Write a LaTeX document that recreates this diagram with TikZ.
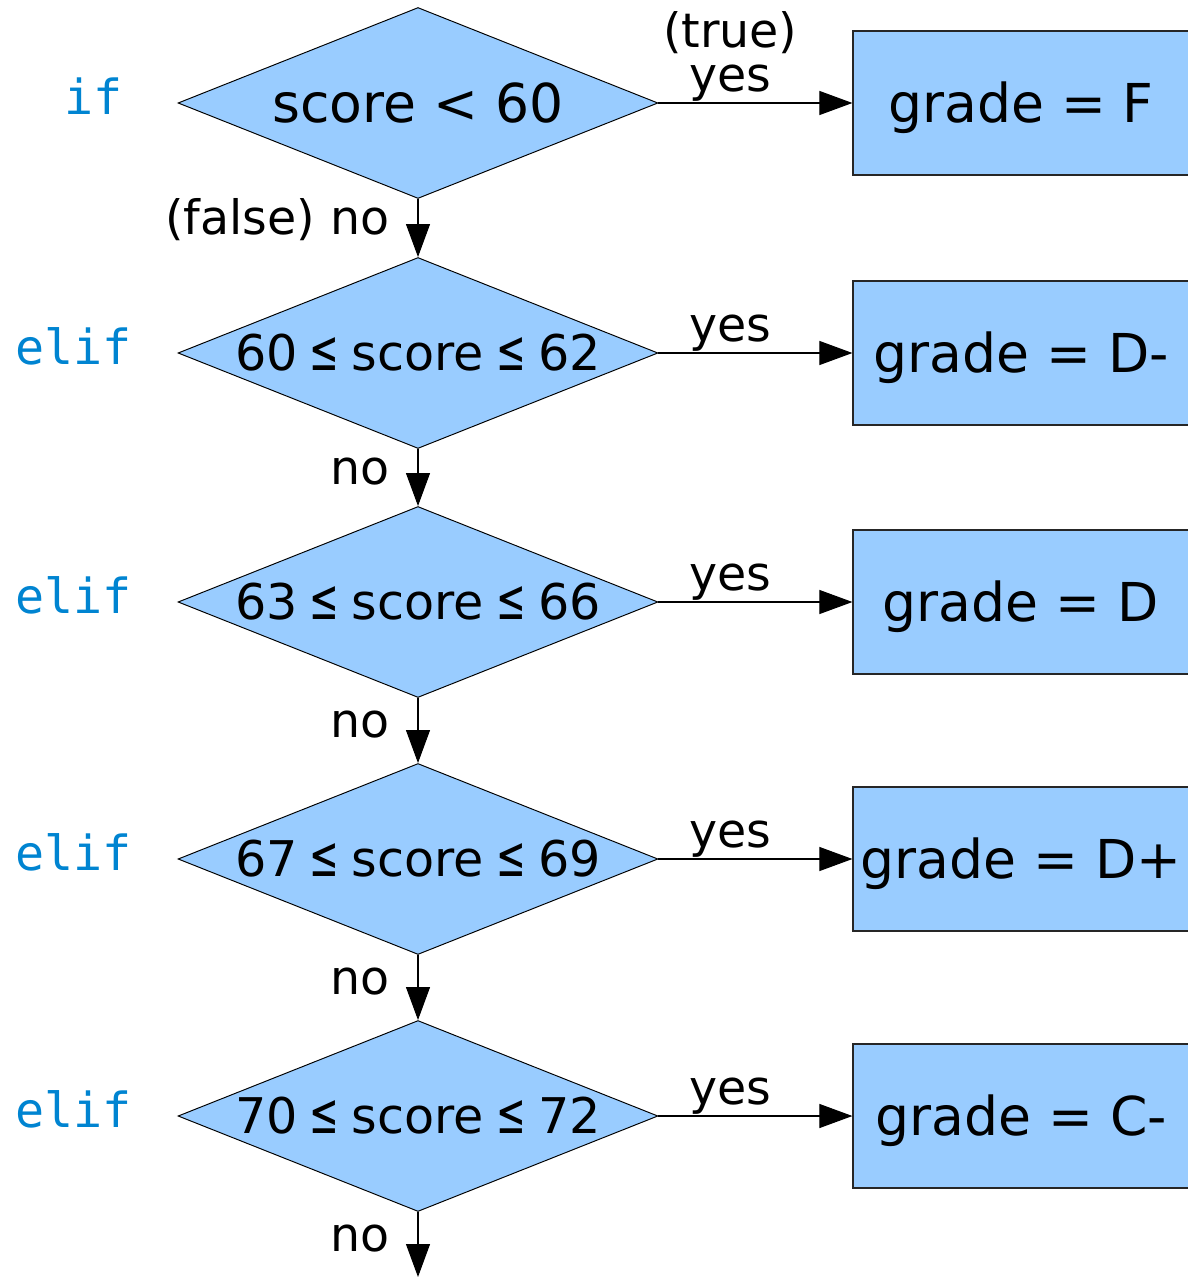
\documentclass[tikz,border=0pt]{standalone}
\usepackage{fontspec}
\usepackage{graphicx}
\setmainfont{DejaVu Sans}
\newfontfamily\codefont{DejaVu Sans Mono}
\usetikzlibrary{shapes.geometric,arrows.meta,positioning}
\definecolor{testblue}{HTML}{99CCFF}
\definecolor{kwblue}{RGB}{0,132,209}
\newcommand{\cnd}[1]{\makebox[0pt]{#1}}
\newcommand{\leqs}{\hspace{0.25em}\scalebox{0.72}[1.15]{≤}\hspace{0.25em}}

\tikzset{
  test/.style={diamond, draw=black, line width=0.55pt, fill=testblue,
    minimum width=9.6cm, minimum height=3.82cm, inner sep=0pt,
    text height=22.2pt, text depth=0pt, font=\fontsize{30.5}{36}\selectfont},
  rangetest/.style={test, text height=20.4pt, font=\fontsize{28}{34}\selectfont},
  gradebox/.style={rectangle, draw=black!85, line width=0.7pt, fill=testblue,
    minimum width=6.72cm, minimum height=2.88cm, inner sep=0pt,
    text height=22.2pt, text depth=0pt, font=\fontsize{30.5}{36}\selectfont},
  kw/.style={text=kwblue, anchor=base, inner sep=0pt, font=\codefont\fontsize{27.5}{33}\selectfont},
  lbl/.style={inner sep=0pt, font=\fontsize{27}{32}\selectfont},
  yeslbl/.style={lbl, pos=.37, anchor=base, yshift=0.24cm},
  nolbl/.style={lbl, midway, anchor=base east, xshift=-0.56cm, yshift=-0.14cm},
  arr/.style={-{Triangle[length=0.66cm,width=0.48cm]}, line width=0.6pt},
}

\begin{document}
\begin{tikzpicture}[x=0.02cm, y=-0.02cm]
\useasboundingbox (0,0) rectangle (1187,1277);

% tests
\node [test]      (c1) at (418,103)  {\cnd{score < 60}};
\node [rangetest] (c2) at (418,353)  {\cnd{60\leqs score\leqs 62}};
\node [rangetest] (c3) at (418,602)  {\cnd{63\leqs score\leqs 66}};
\node [rangetest] (c4) at (418,859)  {\cnd{67\leqs score\leqs 69}};
\node [rangetest] (c5) at (418,1116) {\cnd{70\leqs score\leqs 72}};
\coordinate (out) at (418,1277);

% keywords
\node [kw] (k1) at (93.5,115)  {if};
\node [kw] (k2) at (73.5,364)  {elif};
\node [kw] (k3) at (73.5,613)  {elif};
\node [kw] (k4) at (73.5,870)  {elif};
\node [kw] (k5) at (73.5,1127) {elif};

% results
\node [gradebox, right=3.88cm of c1] (g1) {grade = F};
\node [gradebox, right=3.88cm of c2] (g2) {grade = D-};
\node [gradebox, right=3.88cm of c3] (g3) {grade = D};
\node [gradebox, right=3.88cm of c4] (g4) {grade = D+};
\node [gradebox, right=3.88cm of c5] (g5) {grade = C-};

% yes branches
\draw [arr] (c1.east) -- (g1.west) node [yeslbl] (y1) {yes};
\node [lbl, anchor=base] (t1) at ([yshift=0.88cm] y1.base) {(true)};
\draw [arr] (c2.east) -- (g2.west) node [yeslbl] (y2) {yes};
\draw [arr] (c3.east) -- (g3.west) node [yeslbl] (y3) {yes};
\draw [arr] (c4.east) -- (g4.west) node [yeslbl] (y4) {yes};
\draw [arr] (c5.east) -- (g5.west) node [yeslbl] (y5) {yes};

% no branches
\draw [arr] (c1.south) -- (c2.north) node [nolbl] (n1) {(false) no};
\draw [arr] (c2.south) -- (c3.north) node [nolbl] (n2) {no};
\draw [arr] (c3.south) -- (c4.north) node [nolbl] (n3) {no};
\draw [arr] (c4.south) -- (c5.north) node [nolbl] (n4) {no};
\draw [arr] (c5.south) -- (out)      node [nolbl] (n5) {no};

\end{tikzpicture}
\end{document}
